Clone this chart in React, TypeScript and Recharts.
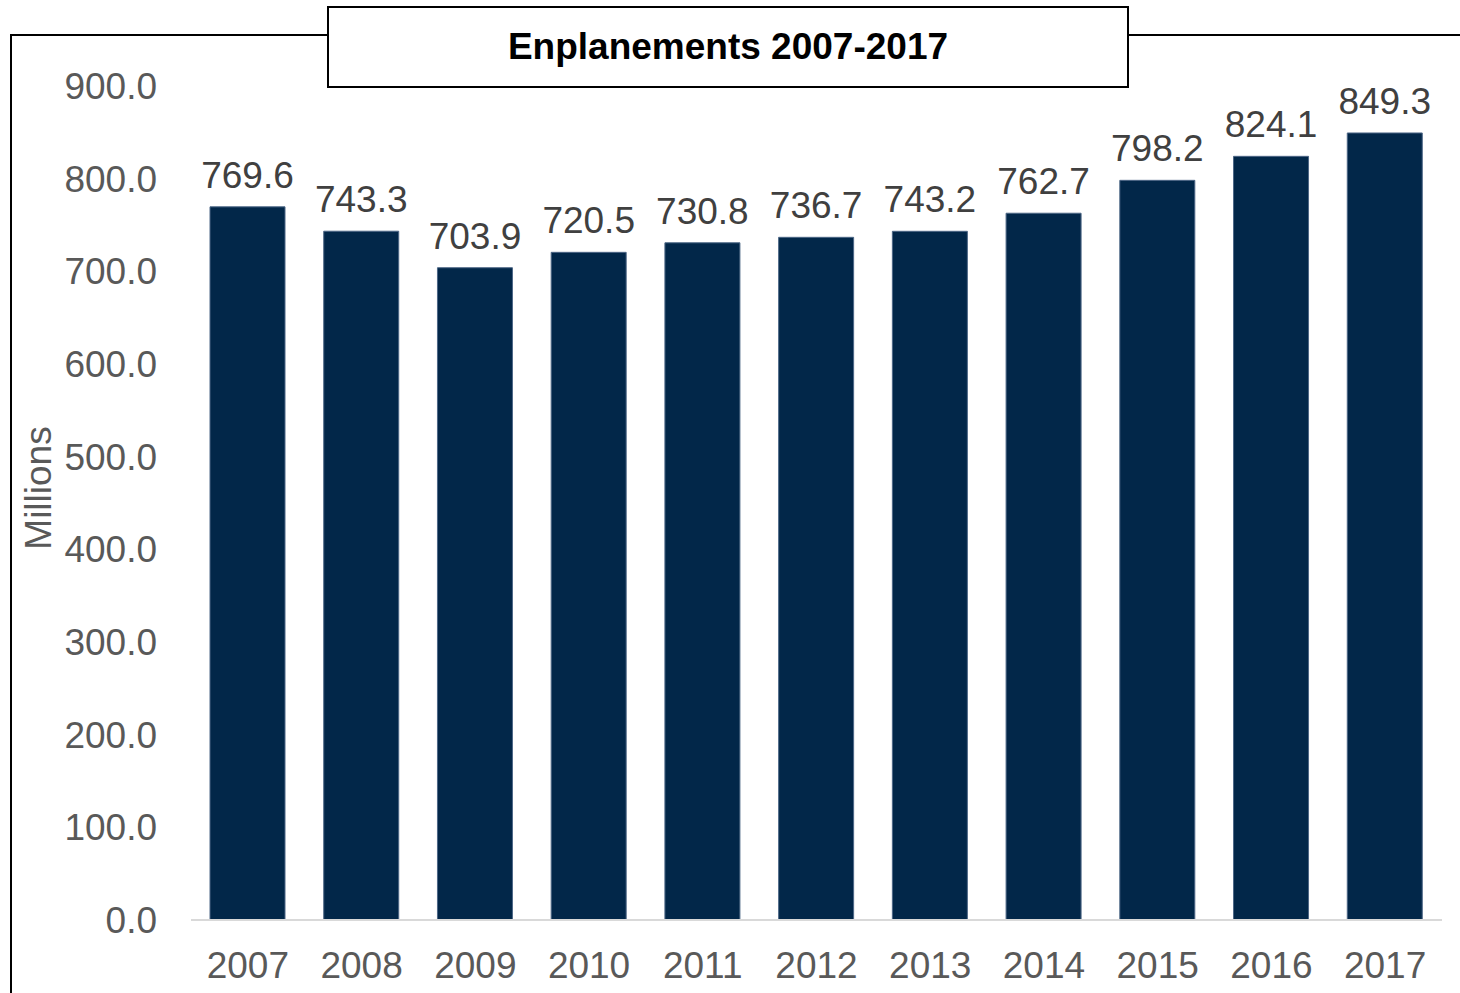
import { Bar, BarChart, LabelList, XAxis, YAxis } from "recharts";

const years = ["2007", "2008", "2009", "2010", "2011", "2012", "2013", "2014", "2015", "2016", "2017"];
const enplanements = [769.6, 743.3, 703.9, 720.5, 730.8, 736.7, 743.2, 762.7, 798.2, 824.1, 849.3];
const yTicks = [0, 100, 200, 300, 400, 500, 600, 700, 800, 900];

const data = years.map((year, i) => ({ year, value: enplanements[i] }));

const font = "'Liberation Sans', Arial, sans-serif";

export default function App() {
  return (
    <div style={{ position: "absolute", top: 0, left: 0, width: 1460, height: 993, fontFamily: font, background: "#fff" }}>
      {/* outer frame: top + left edges */}
      <div style={{ position: "absolute", left: 10, top: 34, width: 1450, height: 959, borderLeft: "2px solid #000", borderTop: "2px solid #000" }} />

      <BarChart
        width={1460}
        height={993}
        data={data}
        margin={{ top: 86, right: 18, left: 1, bottom: 0 }}
        style={{ position: "absolute", left: 0, top: 0 }}
      >
        <XAxis
          dataKey="year"
          height={73}
          tickLine={false}
          tickSize={0}
          tickMargin={32}
          axisLine={{ stroke: "#d9d9d9", strokeWidth: 2 }}
          tick={{ fill: "#595959", fontSize: 37, fontFamily: font }}
        />
        <YAxis
          width={190}
          domain={[0, 900]}
          ticks={yTicks}
          tickFormatter={(v: number) => v.toFixed(1)}
          axisLine={false}
          tickLine={false}
          tickSize={0}
          tickMargin={34}
          tick={{ fill: "#595959", fontSize: 37, fontFamily: font }}
        />
        <Bar dataKey="value" fill="#022749" stroke="#4d6786" strokeWidth={1} barSize={75} isAnimationActive={false}>
          <LabelList
            dataKey="value"
            position="top"
            offset={19}
            formatter={(v: number) => v.toFixed(1)}
            style={{ fill: "#404040", fontSize: 37, fontFamily: font }}
          />
        </Bar>
      </BarChart>

      <div
        style={{
          position: "absolute",
          left: 38,
          top: 488,
          transform: "translate(-50%, -50%) rotate(-90deg)",
          fontSize: 37,
          color: "#595959",
          whiteSpace: "nowrap",
          lineHeight: 1,
        }}
      >
        Millions
      </div>

      <div
        style={{
          position: "absolute",
          left: 327,
          top: 6,
          width: 798,
          height: 78,
          border: "2px solid #000",
          background: "#fff",
          display: "flex",
          alignItems: "center",
          justifyContent: "center",
          fontWeight: "bold",
          fontSize: 37,
          color: "#000",
        }}
      >
        Enplanements 2007-2017
      </div>
    </div>
  );
}
